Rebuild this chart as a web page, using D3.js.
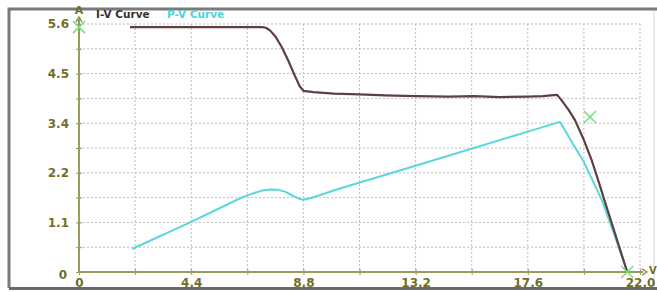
<!DOCTYPE html>
<html>

<head>
  <title>I-V / P-V Curve</title>
  <style>
    body { margin: 0; background: #fff; }
  </style>
</head>

<body>
  <svg id="main" width="657" height="292"></svg>

  <script src="https://cdn.jsdelivr.net/npm/d3@7.0.1/dist/d3.min.js"></script>
  <script>
    // I-V curve (volts, amps)
    const ivVoltage = [2.0, 7.2, 7.35, 7.5, 7.7, 7.95, 8.2, 8.45, 8.65, 8.8, 9.2, 10.0, 11.0, 12.0, 13.2, 14.5, 15.5, 16.5, 17.6, 18.2, 18.5, 18.75, 18.95, 19.2, 19.45, 19.8, 20.1, 20.4, 20.6, 20.9, 21.2, 21.5]
    const ivCurrent = [5.53, 5.53, 5.51, 5.45, 5.32, 5.08, 4.78, 4.45, 4.2, 4.09, 4.06, 4.03, 4.01, 3.99, 3.97, 3.96, 3.97, 3.95, 3.96, 3.97, 3.99, 4.0, 3.86, 3.66, 3.43, 2.98, 2.53, 2.0, 1.63, 1.09, 0.54, 0]

    // P-V curve, drawn on the same vertical scale
    const pvVoltage = [2.08, 4.4, 6.3, 6.6, 6.9, 7.2, 7.5, 7.8, 8.1, 8.4, 8.65, 8.8, 9.1, 10.2, 13.2, 17.6, 18.86, 19.1, 19.4, 19.76, 20.1, 20.5, 21.0, 21.5]
    const pvValue = [0.52, 1.13, 1.66, 1.73, 1.79, 1.84, 1.865, 1.86, 1.81, 1.72, 1.65, 1.63, 1.67, 1.88, 2.4, 3.17, 3.39, 3.16, 2.86, 2.53, 2.12, 1.63, 0.83, 0]

    // green cross markers (Isc, MPP, Voc)
    const markerV = [0, 20.04, 21.5]
    const markerI = [5.53, 3.5, 0]

    const xTickValues = [0, 4.4, 8.8, 13.2, 17.6, 22]
    const xTickLabels = ['0', '4.4', '8.8', '13.2', '17.6', '22.0']
    const yTickValues = [0, 1.12, 2.24, 3.36, 4.48, 5.6]
    const yTickLabels = ['0', '1.1', '2.2', '3.4', '4.5', '5.6']
    const xGrid = [2.2, 4.4, 6.6, 8.8, 11, 13.2, 15.4, 17.6, 19.8, 22]
    const yGrid = [0.56, 1.12, 1.68, 2.24, 2.8, 3.36, 3.92, 4.48, 5.04, 5.6]

    const axisColor = '#9a9a5c'
    const labelColor = '#6f6f2a'
    const font = 'DejaVu Sans, Verdana, sans-serif'

    const svg = d3.select('#main')

    // outer frame
    svg.append('rect').attr('x', 9).attr('y', 9).attr('width', 645).attr('height', 279)
      .attr('fill', 'none').attr('stroke', '#d8d8d8').attr('stroke-width', 1)
    svg.append('path').attr('d', 'M9,288V9H657')
      .attr('fill', 'none').attr('stroke', '#7a7a7a').attr('stroke-width', 3)
    svg.append('path').attr('d', 'M9,288.5H657')
      .attr('fill', 'none').attr('stroke', '#6a6a6a').attr('stroke-width', 3)

    const xScale = d3.scaleLinear().domain([0, 22]).range([79, 640])
    const yScale = d3.scaleLinear().domain([0, 5.6]).range([272, 24])

    // grid
    const grid = svg.append('g').attr('stroke', '#bdbdbd').attr('stroke-dasharray', '2,2')
    grid.selectAll('.vgrid').data(xGrid).join('line')
      .attr('class', 'vgrid')
      .attr('x1', d => xScale(d)).attr('x2', d => xScale(d))
      .attr('y1', yScale(5.6)).attr('y2', yScale(0))
    grid.selectAll('.hgrid').data(yGrid).join('line')
      .attr('class', 'hgrid')
      .attr('x1', xScale(0)).attr('x2', xScale(22))
      .attr('y1', d => yScale(d)).attr('y2', d => yScale(d))

    // axes
    const xAxis = d3.axisBottom(xScale).tickValues([0].concat(xGrid)).tickSize(0).tickFormat(d => {
      const i = xTickValues.indexOf(d)
      return i >= 0 ? xTickLabels[i] : ''
    })
    const yAxis = d3.axisLeft(yScale).tickValues([0].concat(yGrid)).tickSize(0).tickFormat(d => {
      const i = yTickValues.indexOf(d)
      return i >= 0 ? yTickLabels[i] : ''
    })

    const gx = svg.append('g').attr('transform', `translate(0, ${yScale(0)})`).call(xAxis)
    gx.select('.domain').remove()
    gx.selectAll('.tick line').attr('y1', -3).attr('y2', 3).attr('stroke', axisColor)
    gx.selectAll('.tick text').attr('dy', 0).attr('y', 15)

    const gy = svg.append('g').attr('transform', `translate(${xScale(0)}, 0)`).call(yAxis)
    gy.select('.domain').remove()
    gy.selectAll('.tick line').attr('x1', -3).attr('x2', 3).attr('stroke', axisColor)
    gy.selectAll('.tick text').attr('x', -10)
    gy.selectAll('.tick').filter(d => d === 0).select('text').attr('dy', '0.55em').attr('x', -12)

    svg.selectAll('.tick text')
      .attr('fill', labelColor)
      .attr('font-family', font)
      .attr('font-weight', 'bold')
      .attr('font-size', 12)

    svg.append('line').attr('x1', xScale(0)).attr('x2', 643)
      .attr('y1', yScale(0)).attr('y2', yScale(0))
      .attr('stroke', axisColor).attr('stroke-width', 2)
    svg.append('line').attr('x1', xScale(0)).attr('x2', xScale(0))
      .attr('y1', yScale(0)).attr('y2', 18)
      .attr('stroke', axisColor).attr('stroke-width', 2)
    // arrow heads
    svg.append('path').attr('d', `M642,${yScale(0) - 3}L647,${yScale(0)}L642,${yScale(0) + 3}`)
      .attr('fill', 'none').attr('stroke', axisColor).attr('stroke-width', 1.5)
    svg.append('path').attr('d', `M${xScale(0) - 3},22L${xScale(0)},17L${xScale(0) + 3},22`)
      .attr('fill', 'none').attr('stroke', axisColor).attr('stroke-width', 1.5)

    svg.append('text').text('V').attr('x', 649).attr('y', yScale(0) + 2)
      .attr('font-family', font).attr('font-weight', 'bold')
      .attr('font-size', 10).attr('fill', labelColor)
    svg.append('text').text('A').attr('x', xScale(0)).attr('y', 14).attr('text-anchor', 'middle')
      .attr('font-family', font).attr('font-weight', 'bold')
      .attr('font-size', 11).attr('fill', labelColor)

    // legend
    svg.append('text').text('I-V Curve').attr('x', 96).attr('y', 18)
      .attr('font-family', font).attr('font-weight', 'bold')
      .attr('font-size', 10.5).attr('fill', '#3a3030')
    svg.append('text').text('P-V Curve').attr('x', 167).attr('y', 18)
      .attr('font-family', font).attr('font-weight', 'bold')
      .attr('font-size', 10.5).attr('fill', '#4fd3da')

    // curves
    const ivData = ivVoltage.map((v, i) => ({ v: v, y: ivCurrent[i] }))
    const pvData = pvVoltage.map((v, i) => ({ v: v, y: pvValue[i] }))
    const line = d3.line().x(d => xScale(d.v)).y(d => yScale(d.y))

    svg.append('path').datum(pvData).attr('d', line)
      .attr('fill', 'none').attr('stroke', '#5ad6dc').attr('stroke-width', 2)
      .attr('stroke-linejoin', 'round')
    svg.append('path').datum(ivData).attr('d', line)
      .attr('fill', 'none').attr('stroke', '#5e3f42').attr('stroke-width', 2.2)
      .attr('stroke-linejoin', 'round')

    // markers
    const markers = markerV.map((v, i) => ({ v: v, y: markerI[i] }))
    svg.selectAll('.marker').data(markers).join('path')
      .attr('class', 'marker')
      .attr('d', d => {
        const x = xScale(d.v), y = yScale(d.y), s = 6
        return `M${x - s},${y - s}L${x + s},${y + s}M${x - s},${y + s}L${x + s},${y - s}`
      })
      .attr('stroke', '#77e077').attr('stroke-width', 1.5).attr('fill', 'none')
  </script>
</body>

</html>
